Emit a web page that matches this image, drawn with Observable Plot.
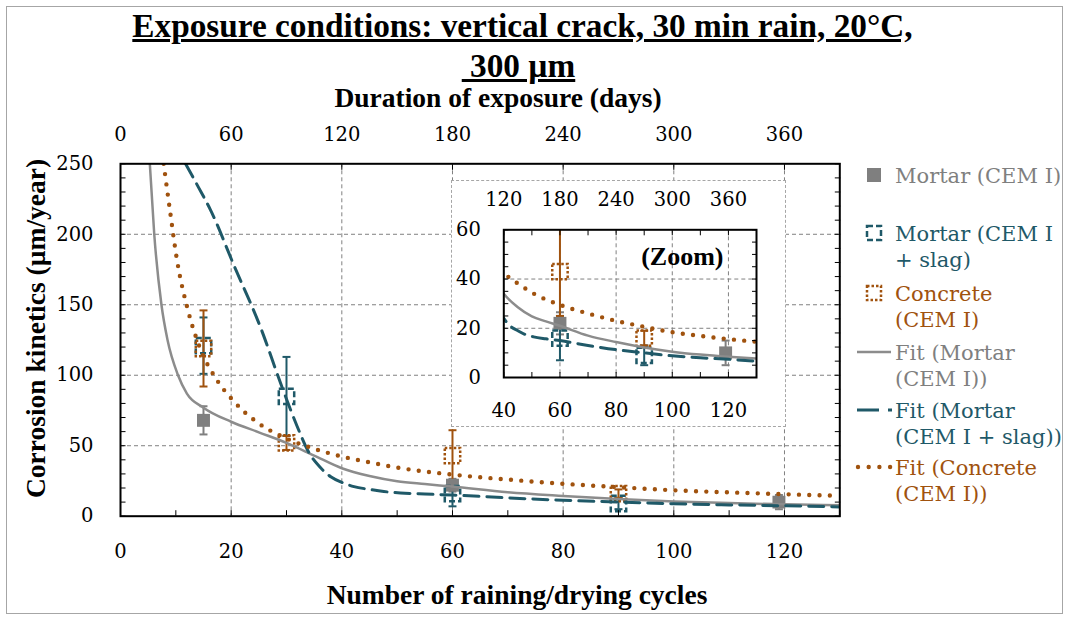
<!DOCTYPE html>
<html><head><meta charset="utf-8">
<script src="https://cdn.jsdelivr.net/npm/d3@7"></script>
<script src="https://cdn.jsdelivr.net/npm/@observablehq/plot@0.6"></script>
<style>
html,body{margin:0;padding:0;background:#fff;}
#wrap{position:relative;width:1065px;height:617px;overflow:hidden;background:#fff;}
#border{position:absolute;left:6px;top:6px;width:1057px;height:608px;border:1.5px solid #a6a6a6;box-sizing:border-box;}
.tl{position:absolute;left:0;width:1045px;text-align:center;font-family:"Liberation Serif",serif;font-weight:bold;font-size:33.3px;line-height:34px;text-decoration:underline;white-space:pre;color:#000;}
#main{position:absolute;left:0;top:80px;}
#inset{position:absolute;left:451px;top:180px;width:333px;height:245px;border:1px dashed #a6a6a6;background:#fff;}
#legend{position:absolute;left:845px;top:150px;}
</style></head>
<body>
<div id="wrap">
  <div id="border"></div>
  <div class="tl" style="top:9px">Exposure conditions: vertical crack, 30 min rain, 20°C,</div>
  <div class="tl" style="top:49px;width:1037px"> 300 µm</div>
  <div id="main"></div>
  <div id="inset"></div>
  <svg id="legend" width="220" height="370"></svg>
</div>
<script>
// ---------------- data ----------------
const daysPerCycle = 3;
const xLabel = "Number of raining/drying cycles";
const x2Label = "Duration of exposure (days)";
const yLabel = "Corrosion kinetics (µm/year)";
const zoomLabel = "(Zoom)";

const mainXTicks = [0, 20, 40, 60, 80, 100, 120];
const mainDayTicks = [0, 60, 120, 180, 240, 300, 360];
const mainYTicks = [0, 50, 100, 150, 200, 250];
const mainGridX = [20, 40, 60, 80, 100, 120];
const mainGridY = [50, 100, 150, 200];
const insetXTicks = [40, 60, 80, 100, 120];
const insetDayTicks = [120, 180, 240, 300, 360];
const insetYTicks = [0, 20, 40, 60];
const insetGridX = [60, 80, 100, 120];
const insetGridY = [20, 40];

// measured points (mean, +/- error)
const mortarCycles = [15, 60, 119];
const mortarRate = [68, 22, 10];
const mortarErr = [10, 4.5, 5];

const slagCycles = [15, 30, 60, 90];
const slagRate = [121, 85, 16, 9];
const slagErr = [20, 28, 9, 4];

const concreteCycles = [15, 30, 60, 90];
const concreteRate = [119, 52, 43, 16];
const concreteErr = [27, 5, 18, 3];

// fitted curves
const fitMortarCycles = [5.3, 6.1, 7.4, 8.5, 10.4, 12, 15, 20, 25, 30, 35, 40, 45, 50, 55, 60, 70, 80, 90, 100, 110, 120, 130];
const fitMortarRate = [250, 200, 150, 125, 100, 87, 77, 67, 59.5, 52, 43, 34, 28.5, 24.8, 22.8, 21, 17, 14.4, 12.2, 10.5, 9.3, 8.4, 7.7];

const fitSlagCycles = [11.75, 14, 16.3, 20.5, 25.3, 29.2, 31.9, 34, 36, 38, 40, 42.2, 45, 47.6, 50.6, 55, 60, 70, 80, 90, 100, 110, 120, 130];
const fitSlagRate = [250, 234, 217, 178, 134, 91.5, 64, 45.5, 35, 28, 24, 21, 19, 17.5, 16.5, 15.7, 15, 13, 11.3, 10, 8.8, 8, 7.4, 6.6];

const fitConcreteCycles = [7.8, 8.9, 10.2, 12.2, 14.5, 17.2, 20.6, 24.7, 29.5, 34.9, 40.4, 45.8, 50, 60, 70, 80, 90, 100, 110, 120, 130];
const fitConcreteRate = [250, 218, 182, 146, 118, 98, 81, 66.6, 56, 48, 42, 37.6, 34.5, 29.5, 26, 23, 20.6, 18.4, 16.9, 15.6, 14.5];

const legendLabels = [
  ["Mortar (CEM I)"],
  ["Mortar (CEM I", "+ slag)"],
  ["Concrete", "(CEM I)"],
  ["Fit (Mortar", "(CEM I))"],
  ["Fit (Mortar", "(CEM I + slag))"],
  ["Fit (Concrete", "(CEM I))"]
];

// ---------------- styles ----------------
const gray = "#7f7f7f", grayLine = "#8c8c8c", teal = "#1f5968", brown = "#a0520e";
const tickFont = '"DejaVu Serif", serif';
const boldFont = '"Liberation Serif", serif';

const pts = (c, r, e) => c.map((x, i) => ({x, y: r[i], lo: r[i] - e[i], hi: r[i] + e[i]}));
const line = (c, r) => c.map((x, i) => ({x, y: r[i]}));
const mortarPts = pts(mortarCycles, mortarRate, mortarErr);
const slagPts = pts(slagCycles, slagRate, slagErr);
const concretePts = pts(concreteCycles, concreteRate, concreteErr);
const fitMortar = line(fitMortarCycles, fitMortarRate);
const fitSlag = line(fitSlagCycles, fitSlagRate);
const fitConcrete = line(fitConcreteCycles, fitConcreteRate);

const cap = {draw(ctx, size) { const w = Math.sqrt(size) / 2; ctx.moveTo(-w, 0); ctx.lineTo(w, 0); }};

function seriesMarks() {
  const bars = [[mortarPts, gray], [slagPts, teal], [concretePts, brown]].flatMap(([p, c]) => [
    Plot.ruleX(p, {x: "x", y1: "lo", y2: "hi", stroke: c, strokeWidth: 2, clip: true}),
    Plot.dot(p, {x: "x", y: "lo", symbol: cap, r: 4.5, fill: "none", stroke: c, strokeWidth: 2, clip: true}),
    Plot.dot(p, {x: "x", y: "hi", symbol: cap, r: 4.5, fill: "none", stroke: c, strokeWidth: 2, clip: true})
  ]);
  return [
    ...bars,
    Plot.dot(mortarPts, {x: "x", y: "y", symbol: "square", r: 7.3, fill: gray, stroke: "none", clip: true}),
    Plot.dot(slagPts, {x: "x", y: "y", symbol: "square", r: 8.7, fill: "none", stroke: teal, strokeWidth: 2.5, strokeDasharray: "6,3", clip: true}),
    Plot.dot(concretePts, {x: "x", y: "y", symbol: "square", r: 8.7, fill: "none", stroke: brown, strokeWidth: 2.5, strokeDasharray: "2.5,2", clip: true}),
    Plot.line(fitMortar, {x: "x", y: "y", stroke: grayLine, strokeWidth: 2.5, curve: "monotone-x", clip: true}),
    Plot.line(fitSlag, {x: "x", y: "y", stroke: teal, strokeWidth: 3, strokeDasharray: "15,8", curve: "monotone-x", clip: true}),
    Plot.line(fitConcrete, {x: "x", y: "y", stroke: brown, strokeWidth: 4.4, strokeDasharray: "0,10.3", strokeLinecap: "round", curve: "monotone-x", clip: true})
  ];
}

function frameTicks(xt, yt, len, top = true) {
  return [
    Plot.axisX(xt, {anchor: "bottom", tickSize: len, fill: "none", dy: -len, label: null}),
    top ? Plot.axisX(xt, {anchor: "top", tickSize: len, fill: "none", dy: len, label: null}) : null,
    Plot.axisY(yt, {anchor: "left", tickSize: len, fill: "none", dx: len, label: null}),
    Plot.axisY(yt, {anchor: "right", tickSize: len, fill: "none", dx: -len, label: null})
  ];
}

// ---------------- main chart ----------------
const mW = 845, mH = 537, mL = 120, mR = 5.7, mT = 83.3, mB = 101.3;
const frameCx = mL + (mW - mL - mR) / 2;
const frameCy = mT + (mH - mT - mB) / 2;
const mainMinorX = d3.range(0, 131, 10);
const mainMinorY = d3.range(0, 251, 10);

const mainPlot = Plot.plot({
  width: mW, height: mH,
  marginLeft: mL, marginRight: mR, marginTop: mT, marginBottom: mB,
  x: {domain: [0, 130]},
  y: {domain: [0, 250]},
  style: {fontFamily: tickFont, fontSize: "19.5px", color: "#000", background: "none", overflow: "visible"},
  marks: [
    Plot.gridX(mainGridX, {stroke: "#808080", strokeOpacity: 1, strokeWidth: 1, strokeDasharray: "4,3"}),
    Plot.gridY(mainGridY, {stroke: "#808080", strokeOpacity: 1, strokeWidth: 1, strokeDasharray: "4,3"}),
    ...seriesMarks(),
    Plot.frame({stroke: "#000", strokeWidth: 2}),
    ...frameTicks(mainMinorX, mainMinorY, 5.5, false),
    Plot.axisX(mainXTicks, {anchor: "top", tickSize: 5.5, fill: "none", dy: 5.5, label: null}),
    Plot.axisX(mainXTicks, {anchor: "bottom", tickSize: 0, tickPadding: 27.6, fontSize: 19.5, label: null}),
    Plot.axisX(mainDayTicks.map(d => d / daysPerCycle), {anchor: "top", tickSize: 0, tickPadding: 23.2, fontSize: 19.5, tickFormat: d => Math.round(d * daysPerCycle), label: null}),
    Plot.axisY(mainYTicks, {anchor: "left", tickSize: 0, tickPadding: 27, fontSize: 19.5, label: null}),
    Plot.text([xLabel], {text: d => d, frameAnchor: "bottom", textAnchor: "middle", dx: 516.5 - frameCx, dy: 87.3, lineAnchor: "bottom", fontFamily: boldFont, fontWeight: "bold", fontSize: 27.5}),
    Plot.text([x2Label], {text: d => d, frameAnchor: "top", textAnchor: "middle", dx: 497.5 - frameCx, dy: 26 - mT, lineAnchor: "bottom", fontFamily: boldFont, fontWeight: "bold", fontSize: 27.5}),
    Plot.text([yLabel], {text: d => d, frameAnchor: "left", textAnchor: "middle", rotate: -90, dx: 44 - mL, dy: (328 - 80) - frameCy, lineAnchor: "bottom", fontFamily: boldFont, fontWeight: "bold", fontSize: 27.5})
  ]
});
document.getElementById("main").appendChild(mainPlot);

// ---------------- inset chart ----------------
const iW = 333, iH = 245, iL = 51.3, iR = 29, iT = 48.3, iB = 49;
const insetPlot = Plot.plot({
  width: iW, height: iH,
  marginLeft: iL, marginRight: iR, marginTop: iT, marginBottom: iB,
  x: {domain: [40, 130]},
  y: {domain: [0, 60]},
  style: {fontFamily: tickFont, fontSize: "19.5px", color: "#000", background: "none", overflow: "visible"},
  marks: [
    Plot.gridX(insetGridX, {stroke: "#808080", strokeOpacity: 1, strokeWidth: 1, strokeDasharray: "4,3"}),
    Plot.gridY(insetGridY, {stroke: "#808080", strokeOpacity: 1, strokeWidth: 1, strokeDasharray: "4,3"}),
    ...seriesMarks(),
    Plot.frame({stroke: "#000", strokeWidth: 2}),
    ...frameTicks(d3.range(40, 131, 10), d3.range(0, 61, 5), 5),
    Plot.axisX(insetXTicks, {anchor: "bottom", tickSize: 0, tickPadding: 26, fontSize: 19.5, label: null}),
    Plot.axisX(insetDayTicks.map(d => d / daysPerCycle), {anchor: "top", tickSize: 0, tickPadding: 24, fontSize: 19.5, tickFormat: d => Math.round(d * daysPerCycle), label: null}),
    Plot.axisY(insetYTicks, {anchor: "left", tickSize: 0, tickPadding: 23, fontSize: 19.5, label: null}),
    Plot.text([zoomLabel], {text: d => d, frameAnchor: "top-right", dx: -33, dy: 17, textAnchor: "end", lineAnchor: "top", fontFamily: boldFont, fontWeight: "bold", fontSize: 26})
  ]
});
document.getElementById("inset").appendChild(insetPlot);

// ---------------- legend ----------------
const lg = d3.select("#legend");
const ox = 845, oy = 150;
const itemY = [175, 233, 293, 352, 410, 467];
const legendColors = [gray, teal, brown, gray, teal, brown];
const lineGap = 26.5, lfs = 21;
legendLabels.forEach((lines, i) => {
  const cy = itemY[i] - oy;
  const g = lg.append("g");
  lines.forEach((t, j) => {
    g.append("text").attr("x", 895 - ox).attr("y", cy + j * lineGap + 0.36 * lfs)
      .attr("font-family", tickFont).attr("font-size", lfs).attr("fill", legendColors[i]).text(t);
  });
  const ix = 874 - ox;
  if (i === 0) g.append("rect").attr("x", ix - 7).attr("y", cy - 7).attr("width", 14).attr("height", 14).attr("fill", gray);
  if (i === 1) g.append("rect").attr("x", ix - 7).attr("y", cy - 7).attr("width", 14).attr("height", 14).attr("fill", "none").attr("stroke", teal).attr("stroke-width", 2.5).attr("stroke-dasharray", "6,3");
  if (i === 2) g.append("rect").attr("x", ix - 7).attr("y", cy - 7).attr("width", 14).attr("height", 14).attr("fill", "none").attr("stroke", brown).attr("stroke-width", 2.5).attr("stroke-dasharray", "2.5,2");
  if (i === 3) g.append("line").attr("x1", 857 - ox).attr("x2", 891 - ox).attr("y1", cy).attr("y2", cy).attr("stroke", grayLine).attr("stroke-width", 2.5);
  if (i === 4) g.append("line").attr("x1", 857 - ox).attr("x2", 892 - ox).attr("y1", cy).attr("y2", cy).attr("stroke", teal).attr("stroke-width", 3).attr("stroke-dasharray", "22,9");
  if (i === 5) g.append("line").attr("x1", 858 - ox).attr("x2", 891 - ox).attr("y1", cy).attr("y2", cy).attr("stroke", brown).attr("stroke-width", 4.4).attr("stroke-dasharray", "0,10.7").attr("stroke-linecap", "round");
});
</script>
</body></html>
